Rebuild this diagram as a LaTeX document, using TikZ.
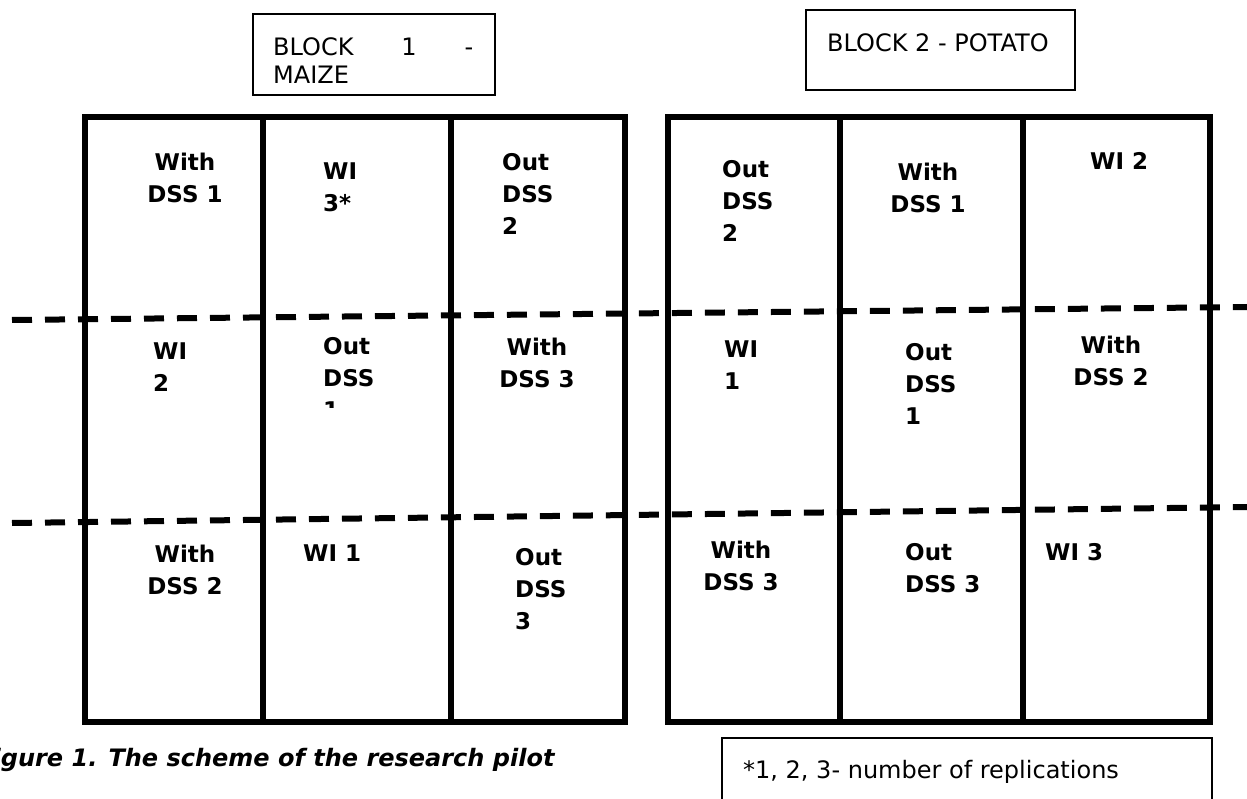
\documentclass[tikz,border=0pt]{standalone}
\usepackage{fontspec}
\setmainfont{DejaVu Sans}
\begin{document}
\begin{tikzpicture}[x=1pt,y=-1pt,
  plot/.style={line width=5.5pt, line join=miter},
  furrow/.style={line width=6pt, dash pattern=on 20pt off 13pt},
  labelbox/.style={draw, line width=1.3pt},
  boxtext/.style={inner sep=0pt, font=\fontsize{24}{28}\selectfont, align=left},
  cell/.style={inner sep=0pt, font=\fontsize{23}{32}\selectfont\bfseries},
  cellL/.style={cell, anchor=north west, align=left},
  cellC/.style={cell, anchor=north, align=center}]
\useasboundingbox (0,0) rectangle (1247,799);

% block titles
\draw[labelbox] (253,14) rectangle (495,95);
\node[boxtext, anchor=north west] (t1) at (273,37)
  {\makebox[200pt][s]{BLOCK\hfill1\hfill-}\\MAIZE};
\draw[labelbox] (806,10) rectangle (1075,90);
\node[boxtext, anchor=north west] (t2) at (827,33) {BLOCK 2 - POTATO};

% block 1 (maize) plots
\draw[plot] (85,117) rectangle (625,722);
\draw[plot] (263,117) -- (263,722);
\draw[plot] (451,117) -- (451,722);
% block 2 (potato) plots
\draw[plot] (668,117) rectangle (1210,722);
\draw[plot] (840,117) -- (840,722);
\draw[plot] (1023,117) -- (1023,722);

% replication boundaries
\coordinate (da) at (12,320);
\coordinate (db) at (1247,307);
\coordinate (dc) at (12,523);
\coordinate (dd) at (1247,507);
\draw[furrow] (da) -- (db);
\draw[furrow] (dc) -- (dd);

% block 1, replication 1
\node[cellC] (m11) at (185,153) {With\\DSS 1};
\node[cellL] (m12) at (323,163) {WI\\3*};
\node[cellL] (m13) at (502,153) {Out\\DSS\\2};
% block 1, replication 2
\node[cellL] (m21) at (153,343) {WI\\2};
\begin{scope}
  \clip (300,325) rectangle (440,407);
  \node[cellL] (m22) at (323,337) {Out\\DSS\\1};
\end{scope}
\node[cellC] (m23) at (537,338) {With\\DSS 3};
% block 1, replication 3
\node[cellC] (m31) at (185,545) {With\\DSS 2};
\node[cellL] (m32) at (303,545) {WI 1};
\node[cellL] (m33) at (515,548) {Out\\DSS\\3};

% block 2, replication 1
\node[cellL] (p11) at (722,160) {Out\\DSS\\2};
\node[cellC] (p12) at (928,163) {With\\DSS 1};
\node[cellL] (p13) at (1090,152) {WI 2};
% block 2, replication 2
\node[cellL] (p21) at (724,341) {WI\\1};
\node[cellL] (p22) at (905,343) {Out\\DSS\\1};
\node[cellC] (p23) at (1111,336) {With\\DSS 2};
% block 2, replication 3
\node[cellC] (p31) at (741,541) {With\\DSS 3};
\node[cellL] (p32) at (905,543) {Out\\DSS 3};
\node[cellL] (p33) at (1045,543) {WI 3};

% caption and note
\node[inner sep=0pt, anchor=base west, font=\fontsize{24}{28}\selectfont\bfseries\itshape] (cap) at (-24,766)
  {Figure 1. The scheme of the research pilot};
\draw[labelbox] (722,810) -- (722,738) -- (1212,738) -- (1212,810);
\node[boxtext, anchor=base west] (note) at (743,778) {*1, 2, 3- number of replications};
\end{tikzpicture}
\end{document}
